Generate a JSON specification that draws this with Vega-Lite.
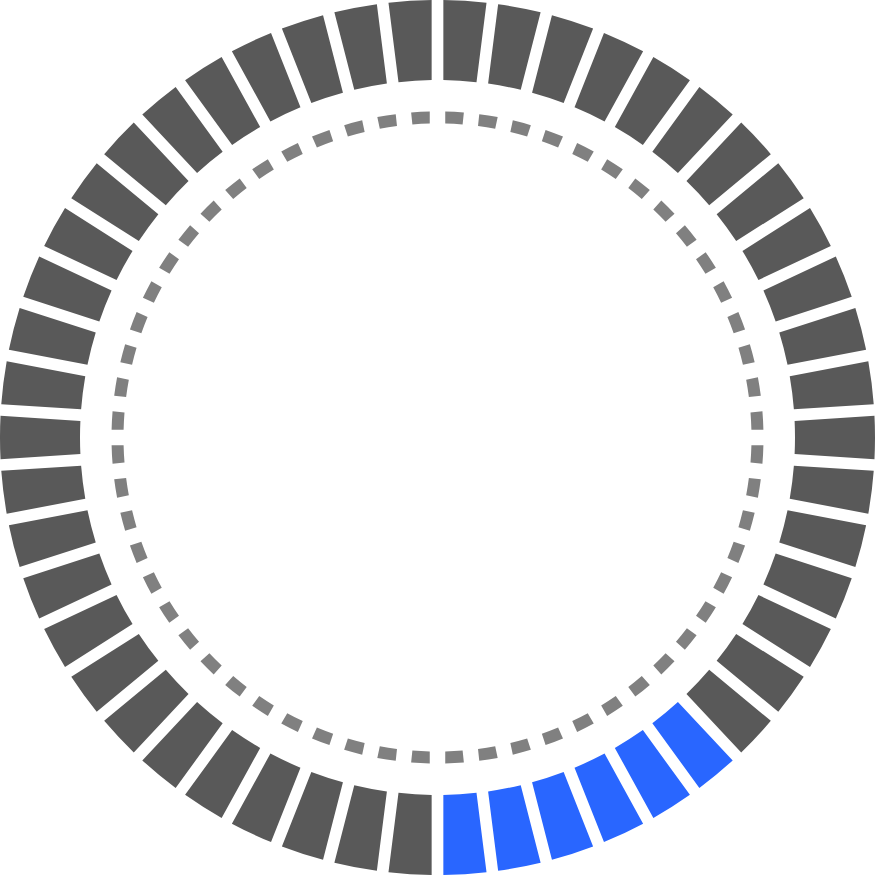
{
  "$schema": "https://vega.github.io/schema/vega-lite/v6.json",
  "width": 875,
  "height": 875,
  "padding": 0,
  "autosize": "none",
  "background": "white",
  "view": {"stroke": null},
  "datasets": {
    "segments": [
      {"idx": 0, "state": "off", "v": 1}, {"idx": 1, "state": "off", "v": 1}, {"idx": 2, "state": "off", "v": 1}, {"idx": 3, "state": "off", "v": 1},
      {"idx": 4, "state": "off", "v": 1}, {"idx": 5, "state": "off", "v": 1}, {"idx": 6, "state": "off", "v": 1}, {"idx": 7, "state": "off", "v": 1},
      {"idx": 8, "state": "off", "v": 1}, {"idx": 9, "state": "off", "v": 1}, {"idx": 10, "state": "off", "v": 1}, {"idx": 11, "state": "off", "v": 1},
      {"idx": 12, "state": "off", "v": 1}, {"idx": 13, "state": "off", "v": 1}, {"idx": 14, "state": "off", "v": 1}, {"idx": 15, "state": "off", "v": 1},
      {"idx": 16, "state": "off", "v": 1}, {"idx": 17, "state": "off", "v": 1}, {"idx": 18, "state": "off", "v": 1}, {"idx": 19, "state": "on", "v": 1},
      {"idx": 20, "state": "on", "v": 1}, {"idx": 21, "state": "on", "v": 1}, {"idx": 22, "state": "on", "v": 1}, {"idx": 23, "state": "on", "v": 1},
      {"idx": 24, "state": "on", "v": 1}, {"idx": 25, "state": "off", "v": 1}, {"idx": 26, "state": "off", "v": 1}, {"idx": 27, "state": "off", "v": 1},
      {"idx": 28, "state": "off", "v": 1}, {"idx": 29, "state": "off", "v": 1}, {"idx": 30, "state": "off", "v": 1}, {"idx": 31, "state": "off", "v": 1},
      {"idx": 32, "state": "off", "v": 1}, {"idx": 33, "state": "off", "v": 1}, {"idx": 34, "state": "off", "v": 1}, {"idx": 35, "state": "off", "v": 1},
      {"idx": 36, "state": "off", "v": 1}, {"idx": 37, "state": "off", "v": 1}, {"idx": 38, "state": "off", "v": 1}, {"idx": 39, "state": "off", "v": 1},
      {"idx": 40, "state": "off", "v": 1}, {"idx": 41, "state": "off", "v": 1}, {"idx": 42, "state": "off", "v": 1}, {"idx": 43, "state": "off", "v": 1},
      {"idx": 44, "state": "off", "v": 1}, {"idx": 45, "state": "off", "v": 1}, {"idx": 46, "state": "off", "v": 1}, {"idx": 47, "state": "off", "v": 1},
      {"idx": 48, "state": "off", "v": 1}, {"idx": 49, "state": "off", "v": 1}
    ],
    "dashes": [
      {"idx": 0, "v": 1}, {"idx": 1, "v": 1}, {"idx": 2, "v": 1}, {"idx": 3, "v": 1}, {"idx": 4, "v": 1}, {"idx": 5, "v": 1},
      {"idx": 6, "v": 1}, {"idx": 7, "v": 1}, {"idx": 8, "v": 1}, {"idx": 9, "v": 1}, {"idx": 10, "v": 1}, {"idx": 11, "v": 1},
      {"idx": 12, "v": 1}, {"idx": 13, "v": 1}, {"idx": 14, "v": 1}, {"idx": 15, "v": 1}, {"idx": 16, "v": 1}, {"idx": 17, "v": 1},
      {"idx": 18, "v": 1}, {"idx": 19, "v": 1}, {"idx": 20, "v": 1}, {"idx": 21, "v": 1}, {"idx": 22, "v": 1}, {"idx": 23, "v": 1},
      {"idx": 24, "v": 1}, {"idx": 25, "v": 1}, {"idx": 26, "v": 1}, {"idx": 27, "v": 1}, {"idx": 28, "v": 1}, {"idx": 29, "v": 1},
      {"idx": 30, "v": 1}, {"idx": 31, "v": 1}, {"idx": 32, "v": 1}, {"idx": 33, "v": 1}, {"idx": 34, "v": 1}, {"idx": 35, "v": 1},
      {"idx": 36, "v": 1}, {"idx": 37, "v": 1}, {"idx": 38, "v": 1}, {"idx": 39, "v": 1}, {"idx": 40, "v": 1}, {"idx": 41, "v": 1},
      {"idx": 42, "v": 1}, {"idx": 43, "v": 1}, {"idx": 44, "v": 1}, {"idx": 45, "v": 1}, {"idx": 46, "v": 1}, {"idx": 47, "v": 1},
      {"idx": 48, "v": 1}, {"idx": 49, "v": 1}, {"idx": 50, "v": 1}, {"idx": 51, "v": 1}, {"idx": 52, "v": 1}, {"idx": 53, "v": 1},
      {"idx": 54, "v": 1}, {"idx": 55, "v": 1}, {"idx": 56, "v": 1}, {"idx": 57, "v": 1}, {"idx": 58, "v": 1}, {"idx": 59, "v": 1}
    ]
  },
  "layer": [
    {
      "data": {"name": "segments"},
      "mark": {"type": "arc", "radius": 437.5, "radius2": 357.5, "padAngle": 0.0207},
      "encoding": {
        "theta": {"field": "v", "type": "quantitative", "stack": true},
        "order": {"field": "idx", "type": "quantitative"},
        "color": {
          "field": "state",
          "type": "nominal",
          "scale": {"domain": ["off", "on"], "range": ["#595959", "#2966ff"]},
          "legend": null
        }
      }
    },
    {
      "data": {"name": "dashes"},
      "mark": {"type": "arc", "radius": 326, "radius2": 314, "padAngle": 0.0342, "color": "#808080"},
      "encoding": {
        "theta": {"field": "v", "type": "quantitative", "stack": true},
        "order": {"field": "idx", "type": "quantitative"}
      }
    }
  ],
  "resolve": {"scale": {"theta": "independent"}}
}
